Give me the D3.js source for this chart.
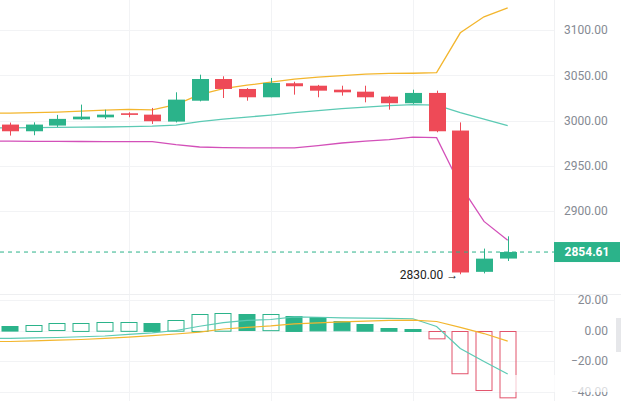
<!DOCTYPE html>
<html>
<head lang="en">
    <meta charset="UTF-8">
    <script type="text/javascript" src="https://d3js.org/d3.v7.min.js"></script>
    <style>
        body { margin: 0; background: #fff; }
        text { font-family: Roboto, "Noto Sans", sans-serif; }
    </style>
</head>
<body>
    <svg id="chart" width="621" height="401"></svg>
    <script>
        // candles
        var opens  = [2995.6, 2988.2, 2994.5, 3001.4, 3003.6, 3008.1, 3006.6, 2998.9, 3022.0, 3046.0, 3035.0,
                      3025.8, 3041.3, 3038.6, 3034.2, 3032.0, 3026.5, 3019.2, 3030.6, 2989.0, 2832.7, 2847.4];
        var highs  = [2997.8, 2998.1, 3006.3, 3017.7, 3012.1, 3009.2, 3014.0, 3031.3, 3050.8, 3049.0, 3036.0,
                      3047.2, 3043.0, 3039.5, 3038.6, 3038.6, 3027.5, 3034.2, 3033.1, 2998.0, 2858.4, 2872.0];
        var lows   = [2983.4, 2983.8, 2993.0, 3000.7, 3001.8, 3003.7, 2996.3, 2998.0, 3021.3, 3025.0, 3022.0,
                      3025.8, 3028.7, 3025.8, 3027.6, 3020.2, 3012.1, 3018.5, 2987.1, 2830.0, 2831.0, 2844.7];
        var closes = [2988.2, 2995.6, 3001.9, 3004.4, 3006.6, 3006.3, 2999.3, 3023.2, 3046.0, 3035.0, 3025.8,
                      3041.7, 3038.0, 3033.1, 3031.3, 3025.8, 3019.2, 3030.6, 2988.2, 2832.0, 2847.3, 2854.61];

        // bands
        var upperBand = [3008.3, 3008.8, 3009.4, 3010.5, 3011.6, 3012.5, 3011.8, 3017.7, 3028.7, 3035.3, 3039.2,
                         3042.5, 3045.8, 3048.0, 3049.7, 3051.3, 3052.2, 3052.4, 3053.0, 3097.1, 3114.8, 3124.7];
        var midBand   = [2991.9, 2992.3, 2992.5, 2992.7, 2992.9, 2993.4, 2993.9, 2995.0, 2998.9, 3001.7, 3003.9,
                         3006.1, 3008.8, 3011.0, 3013.2, 3014.9, 3016.6, 3017.7, 3017.1, 3008.8, 3001.7, 2994.5];
        var lowerBand = [2977.2, 2977.0, 2977.0, 2976.9, 2976.8, 2976.8, 2976.8, 2973.5, 2970.8, 2970.2, 2969.9,
                         2969.9, 2969.9, 2972.4, 2975.2, 2977.4, 2979.0, 2981.8, 2981.2, 2928.3, 2888.5, 2867.6];

        // MACD pane
        var macdHist = [3.0, 3.9, 4.6, 5.2, 5.7, 5.8, 5.2, 7.0, 11.1, 11.6, 10.5,
                        10.6, 9.8, 8.8, 6.1, 4.4, 1.8, 1.3, -4.8, -27.7, -38.7, -43.5];
        var macdDif  = [-5.2, -4.9, -4.6, -4.1, -3.6, -2.6, -1.6, 0.0, 2.8, 5.2, 6.6,
                        7.2, 8.9, 8.7, 8.3, 8.1, 7.9, 7.7, 2.6, -11.8, -20.3, -28.5];
        var macdDea  = [-7.2, -6.8, -6.3, -5.9, -5.2, -4.3, -3.3, -2.3, -1.1, 1.0, 2.0,
                        3.0, 4.4, 5.0, 5.7, 6.2, 6.6, 6.8, 5.9, 2.0, -2.0, -7.0];

        var priceTicks = [3100, 3050, 3000, 2950, 2900];
        var macdTicks = [20, 0, -20, -40];
        var lastPrice = 2854.61;
        var lowLabel = "2830.00";
        var lowIndex = 19;
        var gridIdx = [5, 11, 17];

        var green = "#2bb38a";
        var red = "#ee4a57";
        var plotW = 554;

        var svg = d3.select("#chart");

        var x = d3.scaleLinear().domain([-10 / 23.7, 544 / 23.7]).range([0, plotW]);
        var yPrice = d3.scaleLinear().domain([2900, 3100]).range([211, 30.2]);
        var yMacd = d3.scaleLinear().domain([-20, 20]).range([361, 300]);
        var bodyW = 17;

        // grid
        var grid = svg.append("g").attr("stroke", "#f2f3f5").attr("stroke-width", 1);
        grid.selectAll(".hg").data(priceTicks).enter().append("line")
            .attr("x1", 0).attr("x2", plotW)
            .attr("y1", function(d){ return Math.round(yPrice(d)) + 0.5; })
            .attr("y2", function(d){ return Math.round(yPrice(d)) + 0.5; });
        grid.selectAll(".mg").data(macdTicks).enter().append("line")
            .attr("x1", 0).attr("x2", plotW)
            .attr("y1", function(d){ return Math.round(yMacd(d)) + 0.5; })
            .attr("y2", function(d){ return Math.round(yMacd(d)) + 0.5; });
        grid.selectAll(".vg").data(gridIdx).enter().append("line")
            .attr("x1", function(d){ return Math.round(x(d)) + 0.5; })
            .attr("x2", function(d){ return Math.round(x(d)) + 0.5; })
            .attr("y1", 0).attr("y2", 401);
        // pane separator + axis border
        svg.append("line").attr("x1", 0).attr("x2", 621).attr("y1", 294.5).attr("y2", 294.5)
            .attr("stroke", "#eeeff1");
        svg.append("line").attr("x1", plotW + 0.5).attr("x2", plotW + 0.5).attr("y1", 0).attr("y2", 401)
            .attr("stroke", "#f0f1f3");

        var idx = d3.range(opens.length);

        // band lines, started at the left edge
        function bandLine(vals, scale) {
            var pts = [[0, scale(vals[0])]];
            vals.forEach(function(v, i){ pts.push([x(i), scale(v)]); });
            return d3.line()(pts);
        }
        svg.append("path").attr("d", bandLine(upperBand, yPrice)).attr("fill", "none")
            .attr("stroke", "#f3b62e").attr("stroke-width", 1.3);
        svg.append("path").attr("d", bandLine(midBand, yPrice)).attr("fill", "none")
            .attr("stroke", "#5ccab4").attr("stroke-width", 1.3);
        svg.append("path").attr("d", bandLine(lowerBand, yPrice)).attr("fill", "none")
            .attr("stroke", "#d350b9").attr("stroke-width", 1.3);

        // candles
        var candles = svg.append("g").selectAll("g").data(idx).enter().append("g");
        candles.append("line")
            .attr("x1", function(i){ return Math.round(x(i)) + 0.5; })
            .attr("x2", function(i){ return Math.round(x(i)) + 0.5; })
            .attr("y1", function(i){ return yPrice(highs[i]); })
            .attr("y2", function(i){ return yPrice(lows[i]); })
            .attr("stroke", function(i){ return closes[i] >= opens[i] ? green : red; });
        candles.append("rect")
            .attr("x", function(i){ return Math.round(x(i)) + 0.5 - bodyW / 2; })
            .attr("y", function(i){ return yPrice(Math.max(opens[i], closes[i])); })
            .attr("width", bodyW)
            .attr("height", function(i){ return Math.max(1, Math.abs(yPrice(opens[i]) - yPrice(closes[i]))); })
            .attr("fill", function(i){ return closes[i] >= opens[i] ? green : red; });

        // last price line
        svg.append("line").attr("x1", 0).attr("x2", plotW)
            .attr("y1", yPrice(lastPrice)).attr("y2", yPrice(lastPrice))
            .attr("stroke", green).attr("stroke-dasharray", "4,4");

        // low marker
        svg.append("text")
            .attr("x", x(lowIndex) - 2)
            .attr("y", yPrice(lows[lowIndex]) + 1)
            .attr("dy", "0.35em")
            .attr("text-anchor", "end")
            .attr("font-size", 12)
            .attr("fill", "#222")
            .text(lowLabel + " \u2192");

        // MACD histogram
        svg.append("g").selectAll("rect").data(idx).enter().append("rect")
            .attr("x", function(i){ return Math.round(x(i)) - bodyW / 2 + 0.5; })
            .attr("y", function(i){ return Math.round(Math.min(yMacd(macdHist[i]), yMacd(0))) + 0.5; })
            .attr("width", bodyW - 1)
            .attr("height", function(i){ return Math.abs(yMacd(macdHist[i]) - yMacd(0)); })
            .attr("fill", function(i){
                var grow = i > 0 && Math.abs(macdHist[i]) > Math.abs(macdHist[i - 1]);
                if (macdHist[i] < 0) return "none";
                return grow ? "none" : green;
            })
            .attr("stroke", function(i){ return macdHist[i] >= 0 ? green : "#e2536b"; })
            .attr("stroke-width", 1);

        svg.append("path").attr("d", bandLine(macdDif, yMacd)).attr("fill", "none")
            .attr("stroke", "#5ccab4").attr("stroke-width", 1.2);
        svg.append("path").attr("d", bandLine(macdDea, yMacd)).attr("fill", "none")
            .attr("stroke", "#f3b62e").attr("stroke-width", 1.2);

        // axis labels
        svg.append("g").selectAll("text").data(priceTicks).enter().append("text")
            .attr("x", 564).attr("y", function(d){ return yPrice(d); })
            .attr("dy", "0.35em").attr("font-size", 12).attr("fill", "#858a93")
            .text(function(d){ return d3.format(".2f")(d); });
        svg.append("g").selectAll("text").data(macdTicks).enter().append("text")
            .attr("x", 608).attr("y", function(d){ return yMacd(d); })
            .attr("dy", "0.35em").attr("font-size", 12).attr("fill", "#858a93")
            .attr("text-anchor", "end")
            .text(function(d){ return d3.format(".2f")(d); });

        // current price tag
        svg.append("rect").attr("x", 554).attr("y", yPrice(lastPrice) - 10)
            .attr("width", 66).attr("height", 20).attr("fill", green);
        svg.append("text").attr("x", 587).attr("y", yPrice(lastPrice))
            .attr("dy", "0.35em").attr("text-anchor", "middle")
            .attr("font-size", 12).attr("font-weight", "bold").attr("fill", "#fff")
            .text(d3.format(".2f")(lastPrice));

        // side handle
        svg.append("rect").attr("x", 616).attr("y", 318).attr("width", 5).attr("height", 34)
            .attr("fill", "#e6e7ea");

        // faint watermark strip
        svg.append("rect").attr("x", 512).attr("y", 375).attr("width", 104).attr("height", 17)
            .attr("fill", "#fff").attr("opacity", 0.7);
    </script>
</body>
</html>
